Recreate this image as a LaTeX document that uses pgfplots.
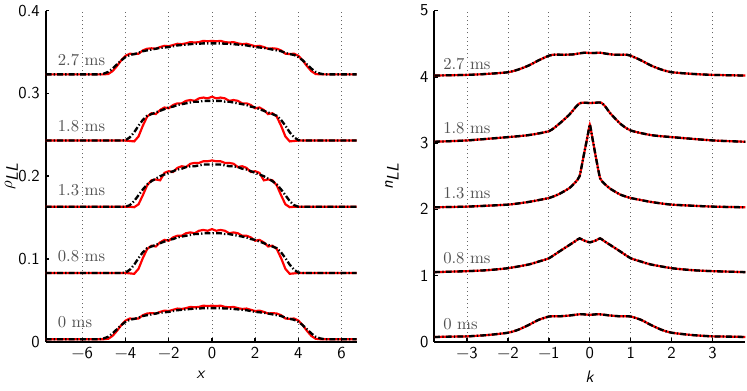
\documentclass[border=0pt]{standalone}
\usepackage{fontspec}
\usepackage{pgfplots}
\usepackage{pgfplotstable}
\pgfplotsset{compat=1.18}

% density profiles, relative to each curve's baseline: x, red (solid), black (dash-dot)
\pgfplotstableread{
x r b
-7.7 0 0
-5.4 0 0
-5.2 0 0
-5.0 0 0.001
-4.8 0.0005 0.003
-4.6 0.004 0.007
-4.4 0.010 0.012
-4.2 0.017 0.017
-4.0 0.0225 0.021
-3.8 0.025 0.0235
-3.6 0.0245 0.0245
-3.4 0.025 0.026
-3.2 0.029 0.028
-3.0 0.031 0.029
-2.8 0.0315 0.030
-2.6 0.031 0.031
-2.4 0.033 0.032
-2.2 0.0345 0.0325
-2.0 0.034 0.033
-1.8 0.0355 0.034
-1.6 0.037 0.035
-1.4 0.0365 0.0355
-1.2 0.0375 0.036
-1.0 0.039 0.0365
-0.8 0.0385 0.037
-0.6 0.039 0.037
-0.4 0.0405 0.0375
-0.2 0.040 0.0375
0.0 0.0405 0.0375
0.2 0.040 0.0375
0.4 0.0405 0.0375
0.6 0.039 0.037
0.8 0.0385 0.037
1.0 0.039 0.0365
1.2 0.0375 0.036
1.4 0.0365 0.0355
1.6 0.037 0.035
1.8 0.0355 0.034
2.0 0.034 0.033
2.2 0.0345 0.0325
2.4 0.033 0.032
2.6 0.031 0.031
2.8 0.0315 0.030
3.0 0.031 0.029
3.2 0.029 0.028
3.4 0.025 0.026
3.6 0.0245 0.0245
3.8 0.025 0.0235
4.0 0.0225 0.021
4.2 0.017 0.017
4.4 0.010 0.012
4.6 0.004 0.007
4.8 0.0005 0.003
5.0 0 0.001
5.2 0 0
5.4 0 0
6.7 0 0
}\wide

\pgfplotstableread{
x r b
-7.7 0 0
-4.4 0 0
-4.2 0 0
-4.0 0 0.0005
-3.8 -0.0005 0.004
-3.6 -0.001 0.010
-3.4 0.005 0.018
-3.2 0.018 0.025
-3.0 0.029 0.030
-2.8 0.033 0.032
-2.6 0.032 0.034
-2.4 0.037 0.036
-2.2 0.040 0.038
-2.0 0.039 0.040
-1.8 0.043 0.041
-1.6 0.045 0.043
-1.4 0.045 0.044
-1.2 0.048 0.045
-1.0 0.049 0.046
-0.8 0.048 0.047
-0.6 0.051 0.047
-0.4 0.052 0.048
-0.2 0.051 0.048
0.0 0.053 0.048
0.2 0.051 0.048
0.4 0.052 0.048
0.6 0.051 0.047
0.8 0.048 0.047
1.0 0.049 0.046
1.2 0.048 0.045
1.4 0.045 0.044
1.6 0.045 0.043
1.8 0.043 0.041
2.0 0.039 0.040
2.2 0.040 0.038
2.4 0.037 0.036
2.6 0.032 0.034
2.8 0.033 0.032
3.0 0.029 0.030
3.2 0.018 0.025
3.4 0.005 0.018
3.6 -0.001 0.010
3.8 -0.0005 0.004
4.0 0 0.0005
4.2 0 0
4.4 0 0
6.7 0 0
}\narrow

\pgfplotstableread{
x r b
-7.7 0 0
-4.2 0 0
-4.0 0 0
-3.8 0 0.002
-3.6 -0.0005 0.007
-3.4 0.003 0.014
-3.2 0.014 0.021
-3.0 0.026 0.027
-2.8 0.032 0.031
-2.6 0.033 0.034
-2.4 0.032 0.037
-2.2 0.041 0.039
-2.0 0.043 0.041
-1.8 0.042 0.043
-1.6 0.047 0.045
-1.4 0.049 0.046
-1.2 0.048 0.048
-1.0 0.052 0.049
-0.8 0.053 0.049
-0.6 0.053 0.050
-0.4 0.055 0.051
-0.2 0.055 0.051
0.0 0.056 0.051
0.2 0.055 0.051
0.4 0.055 0.051
0.6 0.053 0.050
0.8 0.053 0.049
1.0 0.052 0.049
1.2 0.048 0.048
1.4 0.049 0.046
1.6 0.047 0.045
1.8 0.042 0.043
2.0 0.043 0.041
2.2 0.041 0.039
2.4 0.032 0.037
2.6 0.033 0.034
2.8 0.032 0.031
3.0 0.026 0.027
3.2 0.014 0.021
3.4 0.003 0.014
3.6 -0.0005 0.007
3.8 0 0.002
4.0 0 0
4.2 0 0
6.7 0 0
}\narrowb

% momentum distributions (both curves coincide)
\pgfplotstableread{
k n
-3.8 0.07
-3.5 0.075
-3.0 0.08
-2.5 0.10
-2.0 0.135
-1.75 0.18
-1.5 0.25
-1.25 0.33
-1.0 0.38
-0.9 0.385
-0.7 0.385
-0.5 0.395
-0.3 0.41
-0.2 0.415
-0.1 0.41
0.0 0.405
0.1 0.41
0.2 0.415
0.3 0.41
0.5 0.395
0.7 0.385
0.9 0.385
1.0 0.38
1.25 0.33
1.5 0.25
1.75 0.18
2.0 0.135
2.5 0.10
3.0 0.08
3.5 0.075
3.8 0.07
}\nzero

\pgfplotstableread{
k n
-3.8 1.05
-3.0 1.065
-2.5 1.08
-2.0 1.11
-1.5 1.165
-1.25 1.21
-1.0 1.26
-0.75 1.36
-0.5 1.46
-0.35 1.52
-0.25 1.56
-0.15 1.53
0.0 1.50
0.15 1.53
0.25 1.56
0.35 1.52
0.5 1.46
0.75 1.36
1.0 1.26
1.25 1.21
1.5 1.165
2.0 1.11
2.5 1.08
3.0 1.065
3.8 1.05
}\none

\pgfplotstableread{
k n
-3.8 2.03
-3.0 2.04
-2.0 2.07
-1.5 2.11
-1.0 2.17
-0.75 2.23
-0.5 2.32
-0.35 2.41
-0.25 2.50
-0.15 2.81
-0.05 3.12
0.0 3.28
0.05 3.12
0.15 2.78
0.25 2.47
0.35 2.39
0.5 2.31
0.75 2.22
1.0 2.17
1.5 2.11
2.0 2.07
3.0 2.04
3.8 2.03
}\ntwo

\pgfplotstableread{
k n
-3.8 3.02
-3.0 3.04
-2.0 3.09
-1.5 3.12
-1.0 3.18
-0.75 3.29
-0.5 3.43
-0.35 3.54
-0.25 3.60
-0.15 3.61
0.0 3.605
0.15 3.61
0.28 3.61
0.38 3.55
0.5 3.45
0.75 3.29
1.0 3.19
1.5 3.12
2.0 3.09
3.0 3.04
3.8 3.02
}\nthree

\pgfplotstableread{
k n
-3.8 4.02
-3.0 4.03
-2.5 4.045
-2.0 4.07
-1.75 4.11
-1.5 4.17
-1.25 4.25
-1.0 4.32
-0.9 4.335
-0.6 4.335
-0.4 4.34
-0.2 4.36
-0.1 4.365
0.0 4.36
0.1 4.36
0.25 4.365
0.4 4.35
0.6 4.335
0.9 4.335
1.0 4.32
1.25 4.25
1.5 4.17
1.75 4.11
2.0 4.07
2.5 4.045
3.0 4.03
3.8 4.02
}\nfour

\pgfplotsset{
  panel/.style={
    scale only axis, width=186.6pt, height=198.6pt,
    axis x line*=bottom, axis y line*=left,
    axis line style={line width=1.1pt},
    tick align=inside, major tick length=2pt,
    tick style={line width=0.8pt, black},
    xmajorgrids,
    grid style={black!60, line width=0.5pt, dash pattern=on 0.5pt off 2pt},
    ticklabel style={font=\sffamily},
  },
  redline/.style={red, line width=1.3pt},
  blkline/.style={black, line width=1.4pt, dash pattern=on 3.5pt off 1.3pt on 0.8pt off 1.3pt},
}
\tikzset{tlabel/.style={anchor=west, text=black!68, inner sep=0pt}}

\begin{document}
\begin{tikzpicture}
\begin{axis}[panel,
  xmin=-7.7, xmax=6.7, ymin=0, ymax=0.4,
  xtick={-6,-4,-2,0,2,4,6},
  xticklabels={−6,−4,−2,0,2,4,6},
  ytick={0,0.1,0.2,0.3,0.4},
  yticklabels={0,0.1,0.2,0.3,0.4},
  xlabel={\textsf{\textit{x}}},
  ylabel={$\rho_{\textsf{\textit{LL}}}$},
  ylabel style={yshift=-6.5pt},
]
\addplot[redline] table[x=x, y expr=\thisrow{r}+0.003] {\wide};
\addplot[blkline] table[x=x, y expr=\thisrow{b}+0.003] {\wide};
\addplot[redline] table[x=x, y expr=\thisrow{r}+0.083] {\narrow};
\addplot[blkline] table[x=x, y expr=\thisrow{b}+0.083] {\narrow};
\addplot[redline] table[x=x, y expr=\thisrow{r}+0.163] {\narrowb};
\addplot[blkline] table[x=x, y expr=\thisrow{b}+0.163] {\narrowb};
\addplot[redline] table[x=x, y expr=\thisrow{r}+0.243] {\narrow};
\addplot[blkline] table[x=x, y expr=\thisrow{b}+0.243] {\narrow};
\addplot[redline] table[x=x, y expr=\thisrow{r}+0.323] {\wide};
\addplot[blkline] table[x=x, y expr=\thisrow{b}+0.323] {\wide};
\node[tlabel] at (axis cs:-7.15,0.0234) {0 ms};
\node[tlabel] at (axis cs:-7.15,0.1028) {0.8 ms};
\node[tlabel] at (axis cs:-7.15,0.1826) {1.3 ms};
\node[tlabel] at (axis cs:-7.15,0.261) {1.8 ms};
\node[tlabel] at (axis cs:-7.15,0.340) {2.7 ms};
\end{axis}

\begin{axis}[panel, xshift=233.2pt,
  xmin=-3.8, xmax=3.8, ymin=0, ymax=5,
  xtick={-3,-2,-1,0,1,2,3},
  xticklabels={−3,−2,−1,0,1,2,3},
  ytick={0,1,2,3,4,5},
  yticklabels={0,1,2,3,4,5},
  xlabel={\textsf{\textit{k}}},
  ylabel={\textsf{\textit{n}}$_{\textsf{\textit{LL}}}$},
  ylabel style={yshift=6pt},
]
\addplot[redline, smooth, tension=0.4] table[x=k, y=n] {\nzero};
\addplot[blkline, smooth, tension=0.4] table[x=k, y=n] {\nzero};
\addplot[redline, smooth, tension=0.4] table[x=k, y=n] {\none};
\addplot[blkline, smooth, tension=0.4] table[x=k, y=n] {\none};
\addplot[redline, smooth, tension=0.3] table[x=k, y=n] {\ntwo};
\addplot[blkline, smooth, tension=0.3] table[x=k, y=n] {\ntwo};
\addplot[redline, smooth, tension=0.4] table[x=k, y=n] {\nthree};
\addplot[blkline, smooth, tension=0.4] table[x=k, y=n] {\nthree};
\addplot[redline, smooth, tension=0.4] table[x=k, y=n] {\nfour};
\addplot[blkline, smooth, tension=0.4] table[x=k, y=n] {\nfour};
\node[tlabel] at (axis cs:-3.59,0.26) {0 ms};
\node[tlabel] at (axis cs:-3.59,1.26) {0.8 ms};
\node[tlabel] at (axis cs:-3.59,2.24) {1.3 ms};
\node[tlabel] at (axis cs:-3.59,3.22) {1.8 ms};
\node[tlabel] at (axis cs:-3.59,4.20) {2.7 ms};
\end{axis}
\pgfresetboundingbox
\path (-27.4pt,-29.4pt) rectangle (420.8pt,205pt);
\end{tikzpicture}
\end{document}
